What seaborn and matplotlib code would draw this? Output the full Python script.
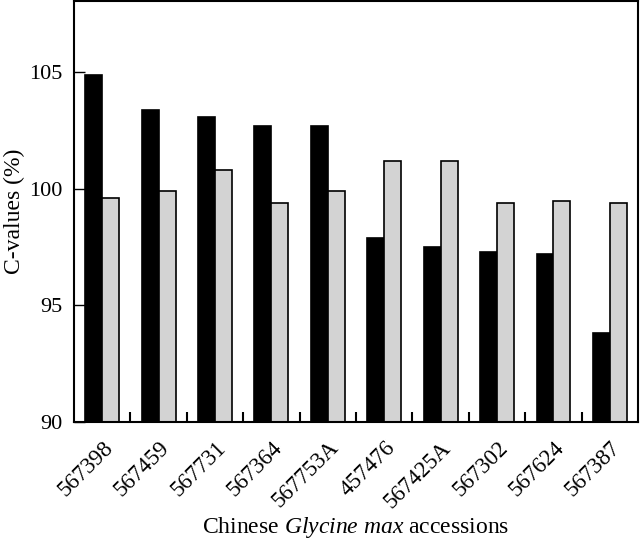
import matplotlib
matplotlib.use("Agg")
import matplotlib.pyplot as plt
import seaborn as sns
import pandas as pd
import numpy as np

accessions = ["567398", "567459", "567731", "567364", "567753A",
              "457476", "567425A", "567302", "567624", "567387"]
series_a = [104.9, 103.4, 103.1, 102.7, 102.7, 97.9, 97.5, 97.3, 97.2, 93.8]
series_b = [99.6, 99.9, 100.8, 99.4, 99.9, 101.2, 101.2, 99.4, 99.5, 99.4]

sns.set_style("ticks")
plt.rcParams['font.family'] = ['Liberation Serif', 'DejaVu Serif']
plt.rcParams['mathtext.fontset'] = 'custom'
plt.rcParams['mathtext.rm'] = 'Liberation Serif'
plt.rcParams['mathtext.it'] = 'Liberation Serif:italic'
plt.rcParams['text.color'] = 'black'
plt.rcParams['axes.labelcolor'] = 'black'
plt.rcParams['xtick.color'] = 'black'
plt.rcParams['ytick.color'] = 'black'
plt.rcParams['xtick.direction'] = 'in'
plt.rcParams['ytick.direction'] = 'in'

df = pd.DataFrame({
    "accession": accessions * 2,
    "value": series_a + series_b,
    "series": ["a"] * len(accessions) + ["b"] * len(accessions),
})

fig = plt.figure(figsize=(6.4, 5.41), dpi=100)
ax = fig.add_axes([0.1156, 0.22, 0.8814, 0.778])

sns.barplot(data=df, x="accession", y="value", hue="series",
            palette=["black", "#d3d3d3"], width=0.6,
            edgecolor="black", linewidth=1.2, legend=False, ax=ax)

ax.set_ylim(90, 108.06)
ax.set_xlim(-0.5, len(accessions) - 0.5)
ax.set_yticks([90, 95, 100, 105])
ax.tick_params(axis="y", which="major", left=True, direction="in", length=8,
               width=1.0, labelsize=16, pad=8)
ax.tick_params(axis="x", which="major", bottom=True, length=0, labelsize=16.5, pad=11)
ax.set_xticks(np.arange(0.5, len(accessions) - 0.5), minor=True)
ax.tick_params(axis="x", which="minor", bottom=True, direction="in", length=7, width=1.5)
plt.setp(ax.get_xticklabels(), rotation=45, ha="right", rotation_mode="anchor")

for s in ax.spines.values():
    s.set_visible(True)
    s.set_linewidth(1.5)
    s.set_color("black")

ax.set_ylabel("C-values (%)", fontsize=17, labelpad=3)
ax.set_xlabel(r"Chinese $\mathit{Glycine\ max}$ accessions", fontsize=17, labelpad=2)

fig.savefig("out.png", dpi=100)
